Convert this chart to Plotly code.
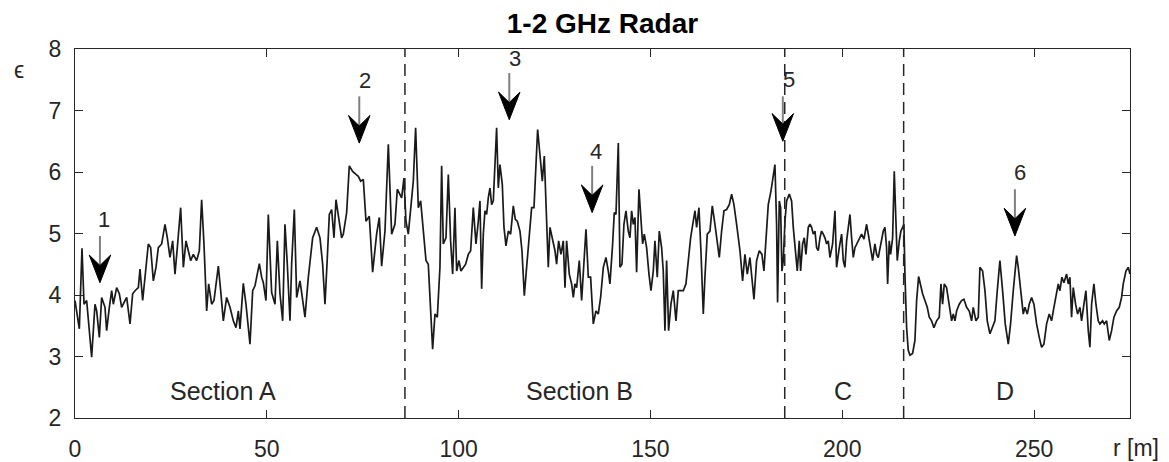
import plotly.graph_objects as go

# ---------------- data ----------------
r_m = [0, 1.13, 1.82, 2.35, 3.04, 4.34, 5.21, 5.65, 6.34, 6.95, 7.82, 8.25, 8.95, 9.56, 9.99,
       10.86, 11.56, 12.16, 13.03, 13.47, 14.34, 15.03, 15.64, 16.51, 16.94, 17.64, 18.25, 19.11,
       19.72, 20.42, 21.11, 21.72, 22.59, 23.46, 24.07, 24.76, 25.46, 26.06, 26.67, 27.54, 28.24,
       28.93, 29.54, 30.15, 30.84, 31.71, 32.41, 33.01, 33.62, 34.32, 34.84, 35.62, 36.23, 37.36,
       37.97, 38.66, 39.53, 40.40,
       41.27, 41.97, 42.58, 43.01, 43.87, 44.57, 45.61, 46.31, 46.92, 48.05, 48.65, 49.09, 49.78,
       50.39, 51.26, 52.13, 52.74, 53.43, 54.13, 54.73, 55.34, 56.04, 56.47, 57.17, 57.78, 58.64,
       59.08, 59.95, 60.82, 61.95, 62.99, 63.86, 64.55, 65.16, 65.77, 66.29, 66.90, 67.51, 68.03,
       68.64, 69.50, 69.94, 70.81, 71.50, 72.37, 73.24, 73.85, 74.46, 75.15, 75.85, 76.71, 77.58,
       78.62, 79.32, 79.93, 80.80, 81.67, 82.54, 83.40, 84.01, 84.71, 85.14,
       85.75, 86.27, 86.88, 87.49, 88.18, 88.79, 89.49, 90.10, 90.79, 91.49, 92.09, 92.70, 93.22,
       93.83, 94.44, 95.13, 95.57, 96.00, 96.70, 97.31, 97.91, 98.44, 99.04, 99.48, 100.09, 100.61,
       101.22, 101.82, 102.52, 103.13, 103.82, 104.52, 105.13, 105.56, 106.00, 106.43, 106.86,
       107.30, 107.73, 108.17, 108.60, 109.04, 109.90, 110.34, 110.77, 111.38, 111.82, 112.34,
       112.95, 113.55, 114.25, 114.77, 115.29, 115.99, 116.51, 117.12, 117.72, 118.42, 119.03,
       119.64, 120.07, 120.59, 121.20, 121.81, 122.33, 122.94, 123.37, 123.81, 124.50, 125.11,
       125.54, 126.06, 126.67, 127.28, 127.72, 128.15, 128.84,
       129.45, 129.89, 130.32, 130.76, 131.45, 132.06, 132.67, 133.19, 133.80, 134.40, 135.10,
       135.79, 136.40, 137.01, 137.71, 138.40, 139.01, 139.44, 140.14, 140.57, 141.01, 141.62,
       142.05, 142.57, 143.09, 143.61, 144.22, 144.66, 145.09, 145.53, 145.96, 146.39, 147.00,
       147.44, 147.96, 148.39, 149.00, 149.61, 150.13, 150.74, 151.17, 151.78, 152.30, 152.91,
       153.34, 153.78, 154.21, 154.73, 155.34, 155.95, 156.65, 157.25, 157.86, 158.56, 159.25,
       159.86, 160.47, 161.16, 161.60, 162.03, 162.64, 163.16, 163.77, 164.20, 164.81, 165.51,
       166.12, 166.81, 167.42, 167.94, 168.55, 169.16, 169.85, 170.55, 171.16, 171.76, 172.46,
       173.33, 174.02, 174.63, 175.24, 175.93, 176.98, 177.67, 178.37, 179.06, 179.58, 180.28,
       180.71, 181.41, 182.02, 182.45, 182.88, 183.14, 183.58, 183.93, 184.27, 184.62, 185.06,
       185.49, 186.19, 186.79, 187.23, 187.66, 188.27, 188.79, 189.14, 189.66, 190.10, 190.53,
       191.14, 191.57, 192.01, 192.44, 192.88, 193.31, 193.74, 194.18, 194.61, 195.05, 195.48,
       195.92, 196.35, 196.79, 197.48, 198.09, 198.52, 199.22, 199.83, 200.26, 200.69, 201.13,
       201.56, 202.00, 202.43, 202.87, 203.30, 203.74, 204.17, 204.60, 205.04, 205.65, 206.34,
       206.78, 207.38, 207.91, 208.51, 208.95, 209.38, 209.82, 210.25, 210.69, 211.12, 211.55,
       211.82, 212.25, 212.60, 213.12, 213.55, 213.99, 214.33, 214.86, 215.29, 215.73, 216.07,
       216.33, 216.77, 217.20, 217.64, 218.33, 218.94, 219.38,
       219.90, 220.94, 221.55, 222.15, 222.68, 223.28, 223.89, 224.59, 225.28, 225.72, 226.15,
       226.59, 227.19, 227.89, 228.50, 228.93, 229.37, 229.80, 230.49, 231.10, 231.71, 232.41,
       233.10, 233.71, 234.14, 234.84, 235.45, 235.88, 236.58, 237.19, 237.79, 238.49, 239.18,
       239.79, 240.40, 241.09, 241.79, 242.48, 243.27, 243.87, 244.57, 245.09, 245.44, 245.87,
       246.48, 247.18, 247.61, 248.22, 248.74, 249.35, 249.96, 250.65, 251.35, 251.95, 252.56,
       253.26, 253.95, 254.56, 255.17, 255.86, 256.30, 256.73, 257.25, 257.77, 258.47, 258.91,
       259.34, 259.77, 260.21, 260.82, 261.34, 261.95, 262.38, 262.99, 263.51, 264.12, 264.55,
       264.99, 265.59, 266.12, 266.72, 267.16, 267.85, 268.29, 268.90, 269.59, 270.20, 270.81,
       271.50, 272.20, 272.80, 273.24, 273.94, 274.54, 275.0]

eps = [3.91, 3.45, 4.76, 3.85, 3.91, 2.99, 3.85, 3.74, 3.31, 3.96, 3.80, 3.42, 3.80, 4.07, 3.85,
       4.12, 4.02, 3.80, 3.91, 3.96, 3.53, 4.02, 4.07, 4.12, 4.42, 3.91, 4.29, 4.83,
       4.77, 4.23, 4.45, 4.77, 4.83, 5.15, 4.93, 4.61, 4.88, 4.34, 4.77, 5.42, 4.45,
       4.88, 4.72, 4.56, 4.66, 4.56, 4.72, 5.55, 4.83, 3.74, 4.18, 3.85, 3.91, 4.47,
       4.07, 3.58, 3.96, 3.80,
       3.58, 3.47, 3.74, 3.45, 4.19, 3.85, 3.20, 4.07, 4.15, 4.51, 4.29, 4.20, 3.91,
       5.31, 4.04, 3.85, 4.88, 4.02, 3.58, 5.15, 4.50, 3.58, 4.50, 5.39, 3.96, 4.23,
       4.04, 3.64, 4.29, 4.93, 5.10, 4.93, 4.50, 3.85, 4.61, 5.31, 5.39, 4.93, 5.55,
       5.26, 4.93, 4.99, 5.34, 6.10, 6.01, 5.96, 5.93, 5.85, 5.88, 5.20, 5.28, 4.37,
       4.99, 5.26, 4.47, 5.04, 6.45, 4.99, 5.15, 5.72, 5.64, 5.58,
       5.90, 5.20, 4.99, 5.42, 5.85, 6.72, 5.42, 5.53, 4.99, 4.56, 4.50, 3.80, 3.12,
       3.69, 3.64, 4.45, 6.10, 4.83, 4.93, 5.96, 4.88, 4.34, 5.42, 4.39, 4.56, 4.39,
       4.45, 4.50, 4.66, 4.72, 5.42, 4.83, 5.20, 5.53, 4.10, 4.99, 5.37,
       5.31, 5.58, 5.74, 5.47, 5.53, 6.72, 5.74, 6.12, 5.80, 5.10, 4.80,
       5.04, 4.99, 5.45, 5.23, 5.20, 5.04, 4.72, 3.99, 4.45, 5.04, 5.42,
       5.42, 5.96, 6.69, 6.28, 5.85, 6.26, 5.10, 4.45, 5.10, 4.88, 4.72,
       4.50, 4.88, 4.66, 4.88, 4.12, 4.88, 4.34,
       4.18, 3.96, 4.18, 4.12, 4.56, 3.91, 4.61, 5.07, 4.29, 4.29, 3.53,
       3.74, 3.69, 3.96, 4.45, 4.61, 4.39, 4.18, 4.83, 5.34, 5.31, 6.47,
       4.45, 4.50, 5.15, 5.37, 5.04, 4.93, 5.37, 5.15, 5.26, 4.37, 5.72,
       5.26, 4.83, 4.99, 4.77, 4.34, 4.07, 4.39, 4.88, 4.29, 5.04, 4.77,
       4.39, 3.42, 4.56, 3.42, 3.85, 4.07, 3.58, 4.07, 4.07, 4.07, 4.18,
       4.61, 4.93, 5.20, 5.37, 5.10, 5.42, 4.72, 3.69, 4.29, 4.99, 5.04,
       5.45, 5.15, 4.88, 4.61, 5.04, 5.37, 5.39, 5.47, 5.64, 5.47, 5.15,
       4.72, 4.23, 4.66, 4.34, 4.61, 3.93, 4.56, 4.72, 4.66, 4.39, 5.10,
       5.47, 5.69, 5.96, 6.12, 5.15, 3.88, 5.53, 5.42, 4.39, 4.56, 5.20,
       5.53, 5.64, 5.53, 5.10, 4.77, 4.39, 4.88, 4.39, 4.83, 4.93, 4.66,
       5.10, 5.15, 5.10, 4.99, 5.04, 4.77, 4.72, 4.93, 5.04, 4.99, 4.93,
       4.83, 4.88, 4.61, 4.83, 5.37, 4.45, 4.77, 4.99, 4.56, 4.45, 4.88,
       5.10, 5.31, 4.93, 4.61, 4.77, 4.83, 4.88, 4.93, 4.99, 4.91, 5.15,
       4.99, 4.77, 4.56, 4.83, 4.66, 4.61, 4.77, 4.88, 5.04, 5.10, 4.77,
       4.18, 4.88, 4.66, 4.93, 6.01, 4.93, 4.56, 4.88, 5.04, 5.10, 5.15,
       4.34, 3.47, 3.10, 3.02, 3.05, 3.26, 3.91,
       4.30, 4.02, 3.91, 3.80, 3.64, 3.58, 3.47, 3.58, 3.64, 4.18, 3.85,
       4.18, 4.12, 3.85, 3.58, 3.69, 3.58, 3.74, 3.85, 3.91, 3.93, 3.80,
       3.74, 3.58, 3.80, 3.58, 3.64, 4.45, 4.39, 4.07, 3.58, 3.37, 3.47,
       3.58, 4.07, 4.56, 4.07, 3.53, 3.20, 3.53, 4.07, 4.45, 4.64, 4.45,
       4.07, 3.69, 3.80, 3.69, 3.85, 3.96, 3.85, 3.53, 3.31, 3.15, 3.20,
       3.53, 3.69, 3.58, 3.80, 4.02, 4.18, 4.07, 4.29, 4.20, 4.34, 4.18,
       4.29, 3.64, 4.12, 3.85, 3.69, 3.80, 3.58, 3.85, 4.07, 3.42, 3.15,
       3.85, 4.18, 3.85, 3.58, 3.53, 3.58, 3.53, 3.58, 3.26, 3.42, 3.64,
       3.74, 3.80, 3.96, 4.18, 4.39, 4.45, 4.34]

x_ticks = [0, 50, 100, 150, 200, 250]
y_ticks = [2, 3, 4, 5, 6, 7, 8]
section_bounds = [86, 185, 216]
section_names = ["Section A", "Section B", "C", "D"]
section_r = [38.7, 131.6, 200.2, 242.4]
section_eps = [2.44, 2.44, 2.44, 2.44]
arrow_names = ["1", "2", "3", "4", "5", "6"]
arrow_r = [6.5, 74.1, 113.2, 134.8, 184.5, 245.0]
arrow_tip = [4.20, 6.47, 6.85, 5.34, 6.50, 4.96]
arrow_top = [4.96, 7.23, 7.61, 6.10, 7.23, 5.72]
label_r = [7.65, 75.6, 114.7, 135.8, 186.0, 246.2]
label_eps = [5.22, 7.48, 7.85, 6.34, 7.50, 5.99]

# ---------------- figure ----------------
FONT = "Liberation Sans, Arial, Helvetica, sans-serif"
AX = "#262626"

fig = go.Figure()
fig.add_trace(go.Scatter(x=r_m, y=eps, mode="lines",
                         line=dict(color="#1a1a1a", width=1.7),
                         showlegend=False, hoverinfo="skip"))

shapes = []
for b in section_bounds:
    shapes.append(dict(type="line", xref="x", yref="y", x0=b, x1=b, y0=2, y1=8,
                       line=dict(color=AX, width=1.5, dash="12px,7px")))

HW, HH, NH = 2.8, 0.45, 0.28
for xr, tip, top in zip(arrow_r, arrow_tip, arrow_top):
    shapes.append(dict(type="line", xref="x", yref="y", x0=xr, x1=xr, y0=tip + NH, y1=top,
                       line=dict(color="#808080", width=2)))
    path = (f"M {xr},{tip} L {xr - HW},{tip + HH} L {xr},{tip + NH} "
            f"L {xr + HW},{tip + HH} Z")
    shapes.append(dict(type="path", xref="x", yref="y", path=path,
                       fillcolor="black", line=dict(color="black", width=1)))

annotations = []
for name, xr, ye in zip(section_names, section_r, section_eps):
    annotations.append(dict(x=xr, y=ye, xref="x", yref="y", text=name, showarrow=False,
                            xanchor="center", yanchor="middle",
                            font=dict(family=FONT, size=25, color=AX)))
for name, xr, ye in zip(arrow_names, label_r, label_eps):
    annotations.append(dict(x=xr, y=ye, xref="x", yref="y", text=name, showarrow=False,
                            xanchor="center", yanchor="middle",
                            font=dict(family=FONT, size=22, color=AX)))
annotations.append(dict(x=-0.0534, y=0.943, xref="paper", yref="paper", text="ϵ",
                        xanchor="center", yanchor="middle",
                        showarrow=False, font=dict(family=FONT, size=23, color=AX)))
annotations.append(dict(x=1.006, y=-0.082, xref="paper", yref="paper", text="r [m]",
                        xanchor="center", yanchor="middle",
                        showarrow=False, font=dict(family=FONT, size=23, color=AX)))

# the page body adds an 8px offset; margins compensate so the axes land where the
# reference has them (plot area 75..1130 x 49..418 in the window)
fig.update_layout(
    width=1169, height=462,
    margin=dict(l=67, r=47, t=41, b=52),
    paper_bgcolor="white", plot_bgcolor="white",
    font=dict(family=FONT, size=23, color=AX),
    title=dict(text="<b>1-2 GHz Radar</b>", x=0.5, xref="paper", xanchor="center",
               y=1 - 15 / 462, yref="container", yanchor="middle",
               font=dict(family=FONT, size=28, color="black")),
    shapes=shapes, annotations=annotations,
    showlegend=False,
)
fig.update_xaxes(range=[0, 275], tickvals=x_ticks, ticks="inside", ticklen=8,
                 tickcolor=AX, showline=True, linecolor=AX, linewidth=1, mirror="ticks",
                 showgrid=False, zeroline=False, tickfont=dict(size=23, color=AX),
                 ticklabelstandoff=10, automargin=False)
fig.update_yaxes(range=[2, 8], tickvals=y_ticks, ticks="inside", ticklen=8,
                 tickcolor=AX, showline=True, linecolor=AX, linewidth=1, mirror="ticks",
                 showgrid=False, zeroline=False, tickfont=dict(size=23, color=AX),
                 ticklabelstandoff=8, automargin=False)

fig.write_html("out.html")
